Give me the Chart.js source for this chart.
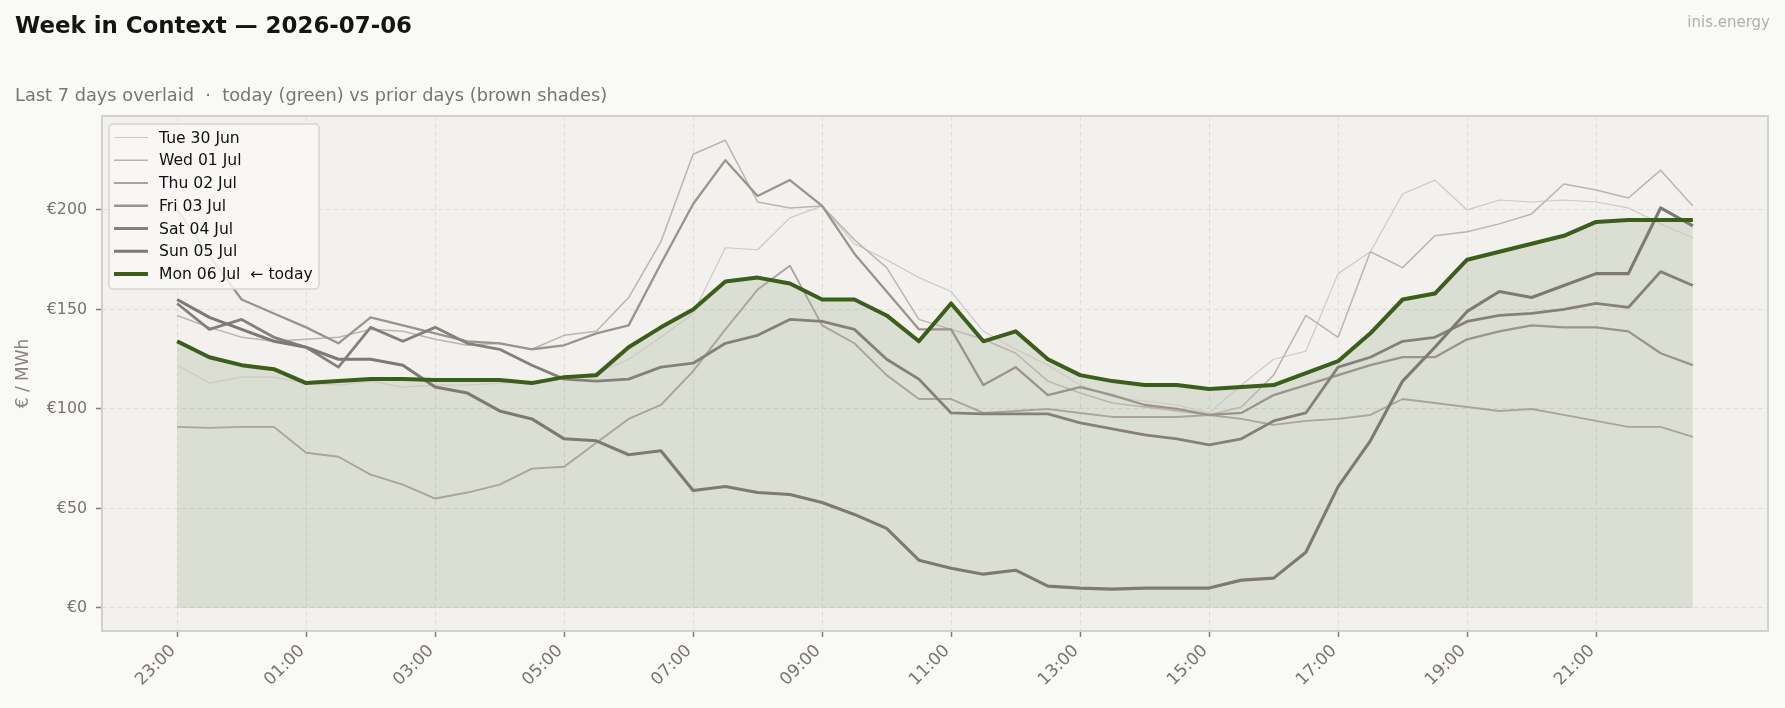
<!DOCTYPE html>
<html><head><meta charset="utf-8">
<script src="https://cdn.jsdelivr.net/npm/chart.js@4.4.1/dist/chart.umd.min.js"></script>
<style>html,body{margin:0;padding:0;background:#f9f9f7;}#wrap{width:1785px;height:708px;}</style>
</head><body><div id="wrap"><canvas id="c" width="1785" height="708"></canvas></div>
<script>
// ---- data ----
const timeLabels = ["23:00","23:30","00:00","00:30","01:00","01:30","02:00","02:30","03:00","03:30",
  "04:00","04:30","05:00","05:30","06:00","06:30","07:00","07:30","08:00","08:30","09:00","09:30",
  "10:00","10:30","11:00","11:30","12:00","12:30","13:00","13:30","14:00","14:30","15:00","15:30",
  "16:00","16:30","17:00","17:30","18:00","18:30","19:00","19:30","20:00","20:30","21:00","21:30",
  "22:00","22:30"];
const xTickLabels = ["23:00","01:00","03:00","05:00","07:00","09:00","11:00","13:00","15:00","17:00","19:00","21:00"];
const yTickValues = [0,50,100,150,200];
const dayNames = ["Tue 30 Jun","Wed 01 Jul","Thu 02 Jul","Fri 03 Jul","Sat 04 Jul","Sun 05 Jul","Mon 06 Jul"];
const tue30 = [122,113,116,116,113,112,114,111,112,112,113,114,116,118,125,136,148,181,180,196,202,183,175,166,159,139,130,122,112,106,104,102,98,112,125,129,168,179,208,215,200,205,204,205,204,201,193,186];
const wed01 = [147,141,136,134,135,136,140,139,135,132,133,130,137,139,156,184,228,235,204,201,202,185,171,145,140,135,128,114,108,103,101,99,97,101,117,147,136,179,171,187,189,193,198,213,210,206,220,202];
const thu02 = [91,90.5,91,91,78,76,67,62,55,58,62,70,71,83,95,102,119,140,160,172,142,133,117,105,105,98,99,100,98,96,96,96,97,95,92,94,95,97,105,103,101,99,100,97,94,91,91,86];
const fri03 = [200,177,155,148,141,133,146,142,138,134,133,130,132,138,142,173,203,225,207,215,202,178,159,140,140,112,121,107,111,107,102,100,97,98,107,112,117,122,126,126,135,139,142,141,141,139,128,122];
const sat04 = [153,140,145,136,131,121,141,134,141,133,130,122,115,114,115,121,123,133,137,145,144,140,125,115,98,97.5,97.5,97.5,93,90,87,85,82,85,94,98,121,126,134,136,144,147,148,150,153,151,169,162];
const sun05 = [155,146,140,134,131,125,125,122,111,108,99,95,85,84,77,79,59,61,58,57,53,47,40,24,20,17,19,11,10,9.5,10,10,10,14,15,28,61,84,114,131,149,159,156,162,168,168,201,192];
const mon06 = [134,126,122,120,113,114,115,115,114.5,114.5,114.5,113,116,117,131,141,150,164,166,163,155,155,147,134,153,134,139,125,117,114,112,112,110,111,112,118,124,138,155,158,175,179,183,187,194,195,195,195];
const seriesValues = [tue30, wed01, thu02, fri03, sat04, sun05, mon06];

// ---- styles ----
const lineColors = ["#cdc9c4","#bbb5b0","#aba49e","#9b938e","#86807d","#7e7976","#3b5e1b"];
const lineWidths = [1.2,1.5,1.9,2.3,2.8,3.1,4.0];
const FONT = '"DejaVu Sans", sans-serif';

const datasets = seriesValues.map((vals, k) => {
  const isToday = k === seriesValues.length - 1;
  return {
    label: dayNames[k] + (isToday ? "  \u2190 today" : ""),
    data: vals.map((v, i) => ({x: i, y: v})),
    borderColor: lineColors[k],
    borderWidth: lineWidths[k],
    pointRadius: 0,
    tension: 0,
    borderJoinStyle: 'round',
    fill: isToday ? 'origin' : false,
    backgroundColor: isToday ? 'rgba(58,94,26,0.12)' : 'transparent',
    order: seriesValues.length - 1 - k
  };
});

const decor = {
  id: 'decor',
  beforeDraw(chart) {
    const {ctx, chartArea: a} = chart;
    ctx.save();
    ctx.fillStyle = '#f9f9f7';
    ctx.fillRect(0, 0, chart.width, chart.height);
    ctx.fillStyle = '#f2f1ed';
    ctx.fillRect(a.left, a.top, a.right - a.left, a.bottom - a.top);
    ctx.restore();
  },
  afterDraw(chart) {
    const {ctx, chartArea: a} = chart;
    ctx.save();
    // plot frame
    ctx.strokeStyle = '#d4d0ca';
    ctx.lineWidth = 2;
    ctx.strokeRect(a.left, a.top, a.right - a.left, a.bottom - a.top);
    // titles
    ctx.textBaseline = 'alphabetic';
    ctx.textAlign = 'left';
    ctx.fillStyle = '#161412';
    ctx.font = 'bold 22.9px ' + FONT;
    ctx.fillText('Week in Context \u2014 2026-07-06', 15, 33);
    ctx.fillStyle = '#7b7470';
    ctx.font = '17.8px ' + FONT;
    ctx.fillText('Last 7 days overlaid  \u00b7  today (green) vs prior days (brown shades)', 15, 100.5);
    ctx.fillStyle = '#b4afaa';
    ctx.font = '15px ' + FONT;
    ctx.textAlign = 'right';
    ctx.fillText('inis.energy', 1770, 27);
    // y axis title
    ctx.save();
    ctx.translate(24, (a.top + a.bottom) / 2);
    ctx.rotate(-Math.PI / 2);
    ctx.textAlign = 'center';
    ctx.textBaseline = 'middle';
    ctx.fillStyle = '#8a827d';
    ctx.font = '17px ' + FONT;
    ctx.fillText('\u20ac / MWh', 0, 0);
    ctx.restore();
    // legend
    const bx = 109, by = 124, bw = 210, bh = 165, r = 4;
    ctx.beginPath();
    ctx.moveTo(bx + r, by);
    ctx.arcTo(bx + bw, by, bx + bw, by + bh, r);
    ctx.arcTo(bx + bw, by + bh, bx, by + bh, r);
    ctx.arcTo(bx, by + bh, bx, by, r);
    ctx.arcTo(bx, by, bx + bw, by, r);
    ctx.closePath();
    ctx.fillStyle = 'rgba(249,248,246,0.85)';
    ctx.fill();
    ctx.strokeStyle = '#d8d4ce';
    ctx.lineWidth = 1.5;
    ctx.stroke();
    ctx.textAlign = 'left';
    ctx.textBaseline = 'middle';
    ctx.font = '15.6px ' + FONT;
    chart.data.datasets.forEach((ds, k) => {
      const y = 137.5 + k * 22.75;
      ctx.beginPath();
      ctx.moveTo(114, y);
      ctx.lineTo(148, y);
      ctx.strokeStyle = ds.borderColor;
      ctx.lineWidth = ds.borderWidth;
      ctx.stroke();
      ctx.fillStyle = '#111';
      ctx.fillText(ds.label, 159, y + 1);
    });
    ctx.restore();
  }
};

new Chart(document.getElementById('c'), {
  type: 'line',
  data: {datasets},
  plugins: [decor],
  options: {
    responsive: false,
    animation: false,
    devicePixelRatio: 1,
    layout: {padding: {top: 116, right: 17, left: 0, bottom: 0}},
    plugins: {legend: {display: false}, tooltip: {enabled: false}, filler: {drawTime: 'beforeDatasetsDraw'}},
    scales: {
      x: {
        type: 'linear',
        min: -2.33, max: 49.33,
        afterBuildTicks: s => { s.ticks = xTickLabels.map(l => ({value: timeLabels.indexOf(l)})); },
        afterFit: s => { s.height = 77; },
        ticks: {
          autoSkip: false, minRotation: 45, maxRotation: 45, padding: 4, labelOffset: -4,
          color: '#7a726d', font: {family: FONT, size: 17},
          callback: v => timeLabels[v]
        },
        grid: {color: '#e2dfd9', lineWidth: 1, tickLength: 6, tickColor: '#847c77', tickWidth: 1.5, tickBorderDash: []},
        border: {display: false, dash: [5, 3]}
      },
      y: {
        type: 'linear',
        min: -11.56, max: 247.2,
        afterBuildTicks: s => { s.ticks = yTickValues.map(v => ({value: v})); },
        afterFit: s => { s.width = 102; },
        ticks: {
          padding: 9, color: '#7a726d', font: {family: FONT, size: 15.8},
          callback: v => '\u20ac' + v
        },
        grid: {color: '#e2dfd9', lineWidth: 1, tickLength: 6, tickColor: '#847c77', tickWidth: 1.5, tickBorderDash: []},
        border: {display: false, dash: [5, 3]}
      }
    }
  }
});
</script></body></html>
